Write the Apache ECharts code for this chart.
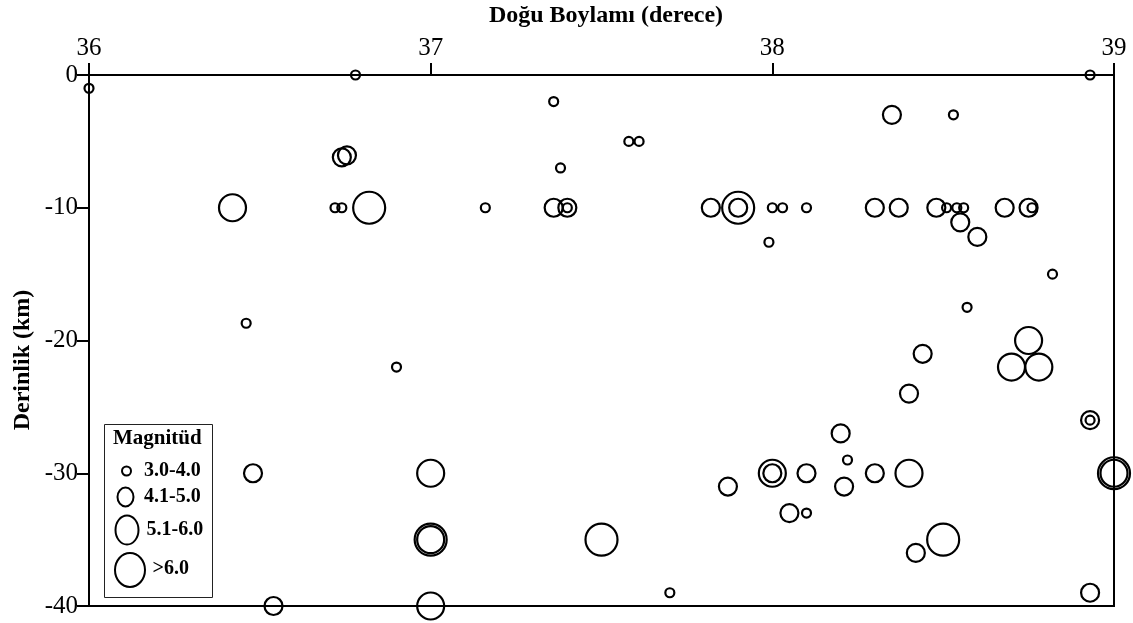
<!DOCTYPE html>
<html>
<head>
<meta charset="utf-8">
<script src="https://cdn.jsdelivr.net/npm/echarts@6/dist/echarts.min.js"></script>
<style>
  html, body { margin: 0; padding: 0; background: #fff; }
  #chart { width: 1133px; height: 623px; }
</style>
</head>
<body>
<div id="chart"></div>
<script>
// Earthquake hypocentres: [east longitude (deg), depth (km, negative downward)]
const xTicks = [36, 37, 38, 39];
const yTicks = [-40, -30, -20, -10, 0];
const magnitudeClasses = ['3.0-4.0', '4.1-5.0', '5.1-6.0', '>6.0'];

const mag3to4 = [
  [36.00, -1.0], [36.78, 0], [36.72, -10], [36.74, -10], [36.46, -18.7],
  [36.90, -22.0], [37.36, -2.0], [37.58, -5.0], [37.61, -5.0], [37.38, -7.0],
  [37.16, -10], [37.40, -10], [38.00, -10], [38.03, -10], [38.10, -10],
  [37.99, -12.6], [38.93, 0], [38.53, -3.0], [38.51, -10], [38.54, -10],
  [38.56, -10], [38.76, -10], [38.82, -15.0], [38.57, -17.5], [38.93, -26.0],
  [38.22, -29.0], [38.10, -33.0], [37.70, -39.0]
];

const mag4to5 = [
  [36.74, -6.2], [36.755, -6.05], [36.48, -30], [36.54, -40], [37.36, -10],
  [37.40, -10], [37.82, -10], [37.90, -10], [38.35, -3.0], [38.30, -10],
  [38.37, -10], [38.48, -10], [38.55, -11.1], [38.60, -12.2], [38.68, -10],
  [38.75, -10], [38.44, -21], [38.40, -24], [38.93, -26], [38.20, -27],
  [38.10, -30], [38.00, -30], [37.87, -31], [38.21, -31], [38.30, -30],
  [38.05, -33], [38.42, -36], [38.93, -39]
];

const mag5to6 = [
  [36.42, -10], [38.75, -20], [38.70, -22], [38.78, -22], [37.00, -30],
  [38.40, -30], [38.00, -30], [37.00, -40], [37.00, -35], [39.00, -30]
];

const mag6plus = [
  [36.82, -10], [37.90, -10], [37.50, -35], [38.50, -35], [37.00, -35],
  [39.00, -30]
];

const FONT = 'Liberation Serif';
const classSeries = [mag3to4, mag4to5, mag5to6, mag6plus];
const classSizes = [9, 18, 27, 32];

const series = classSeries.map((data, i) => ({
  name: magnitudeClasses[i],
  type: 'scatter',
  data: data,
  symbol: 'circle',
  symbolSize: classSizes[i],
  clip: false,
  silent: true,
  itemStyle: { color: 'rgba(0,0,0,0)', borderColor: '#000', borderWidth: 2.2, opacity: 1 },
  emphasis: { disabled: true },
  z: 5
}));

// Legend panel drawn as graphic elements (ellipses of growing size)
const legendX = 104.5, legendY = 424.5;
const legendShapes = [
  { cx: 126.5, cy: 471, rx: 4.5, ry: 4.5, tx: 144, ty: 471 },
  { cx: 125.5, cy: 497, rx: 8, ry: 9.5, tx: 144, ty: 497 },
  { cx: 127, cy: 530, rx: 11.5, ry: 14.5, tx: 146.5, ty: 530 },
  { cx: 130, cy: 570, rx: 15, ry: 17, tx: 152.5, ty: 569 }
];
const legendGraphics = [
  {
    type: 'rect', shape: { x: legendX, y: legendY, width: 108, height: 173 },
    style: { fill: '#fff', stroke: '#222', lineWidth: 1 }, z: 10
  },
  {
    type: 'text', x: 113, y: 439,
    style: { text: 'Magnitüd', font: 'bold 21px "' + FONT + '"', fill: '#000',
             textAlign: 'left', textVerticalAlign: 'middle' }, z: 11
  }
];
legendShapes.forEach((s, i) => {
  legendGraphics.push({
    type: 'ellipse', shape: { cx: s.cx, cy: s.cy, rx: s.rx, ry: s.ry },
    style: { fill: 'none', stroke: '#000', lineWidth: 2 }, z: 11
  });
  legendGraphics.push({
    type: 'text', x: s.tx, y: s.ty,
    style: { text: magnitudeClasses[i], font: 'bold 20px "' + FONT + '"', fill: '#000',
             textAlign: 'left', textVerticalAlign: 'middle' }, z: 11
  });
});

const chart = echarts.init(document.getElementById('chart'), null, { renderer: 'canvas' });
chart.setOption({
  animation: false,
  backgroundColor: '#fff',
  grid: {
    left: 89, right: 19, top: 75, bottom: 17,
    show: true, borderColor: '#000', borderWidth: 2, backgroundColor: 'rgba(0,0,0,0)'
  },
  xAxis: {
    type: 'value', position: 'top',
    min: xTicks[0], max: xTicks[xTicks.length - 1], interval: 1,
    axisLine: { show: true, lineStyle: { color: '#000', width: 2 } },
    axisTick: { show: true, inside: false, length: 12, lineStyle: { color: '#000', width: 2 } },
    axisLabel: { show: true, color: '#000', fontSize: 25, fontFamily: FONT, margin: 14 },
    splitLine: { show: false }
  },
  yAxis: {
    type: 'value', position: 'left',
    min: yTicks[0], max: yTicks[yTicks.length - 1], interval: 10,
    axisLine: { show: true, lineStyle: { color: '#000', width: 2 } },
    axisTick: { show: true, inside: false, length: 12, lineStyle: { color: '#000', width: 2 } },
    axisLabel: { show: true, color: '#000', fontSize: 25, fontFamily: FONT, margin: 11 },
    splitLine: { show: false }
  },
  graphic: [
    {
      type: 'text', x: 606, y: 16,
      style: { text: 'Doğu Boylamı (derece)', font: 'bold 24px "' + FONT + '"', fill: '#000',
               textAlign: 'center', textVerticalAlign: 'middle' }
    },
    {
      type: 'text', x: 22.5, y: 360, rotation: Math.PI / 2,
      style: { text: 'Derinlik (km)', font: 'bold 24px "' + FONT + '"', fill: '#000',
               textAlign: 'center', textVerticalAlign: 'middle' }
    }
  ].concat(legendGraphics),
  series: series
});
</script>
</body>
</html>
